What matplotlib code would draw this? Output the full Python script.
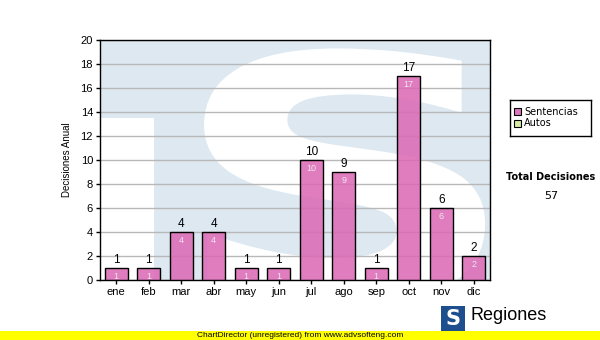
import matplotlib
matplotlib.use("Agg")
import matplotlib.pyplot as plt
from matplotlib.patches import Rectangle, PathPatch
from matplotlib.textpath import TextPath
from matplotlib.font_manager import FontProperties
from matplotlib.transforms import Affine2D

plt.rcParams['font.family'] = ['Liberation Sans', 'DejaVu Sans']

meses = ["ene", "feb", "mar", "abr", "may", "jun", "jul", "ago", "sep", "oct", "nov", "dic"]
sentencias = [1, 1, 4, 4, 1, 1, 10, 9, 1, 17, 6, 2]
total = 57
yticks = list(range(0, 21, 2))

W, H = 600, 340
fig = plt.figure(figsize=(6, 3.4), dpi=100)
fig.patch.set_facecolor("white")

# plot area in pixels: x 100..490, y 40..280
ax = fig.add_axes([100 / W, (H - 280) / H, 390 / W, 240 / H])
ax.set_xlim(-0.5, 11.5)
ax.set_ylim(0, 20)
ax.set_facecolor("#dde8f1")

# watermark: white area left of the "T" stem and big white "S"
ax.add_patch(Rectangle((-0.5, 0), (154 - 100) / 32.5, 13.5, facecolor="white",
                       edgecolor="none", zorder=0))
tp = TextPath((0, 0), "S", prop=FontProperties(family="DejaVu Sans", weight="bold"))
bb = tp.get_extents()
x0, x1, y0, y1 = 2.7, 11.35, -2.0, 19.3
tr = Affine2D().translate(-bb.x0, -bb.y0).scale((x1 - x0) / bb.width, (y1 - y0) / bb.height).translate(x0, y0)
s_patch = PathPatch(tr.transform_path(tp), facecolor="white", edgecolor="none", zorder=0)
ax.add_patch(s_patch)
s_patch.set_clip_path(ax.patch)

ax.set_yticks(yticks)
ax.yaxis.grid(True, color="#b8b8b8", linewidth=1)
ax.set_axisbelow(True)

xs = list(range(len(meses)))
bars = ax.bar(xs, sentencias, width=0.71, color=(0.86, 0.42, 0.71, 0.88), edgecolor="black",
              linewidth=1, zorder=3)
for x, v in zip(xs, sentencias):
    ax.text(x, v + 0.15, str(v), ha="center", va="bottom", fontsize=8.5, color="black", zorder=4)
    ax.text(x, v - 0.3, str(v), ha="center", va="top", fontsize=6.5, color="#f4e6f0", zorder=4)

ax.set_xticks(xs)
ax.set_xticklabels(meses)
ax.tick_params(axis="both", labelsize=8, length=3, width=1, direction="out", color="black", pad=2)
for sp in ax.spines.values():
    sp.set_linewidth(1)
ax.set_ylabel("Decisiones Anual", fontsize=7, labelpad=6)

# legend
leg_ax = fig.add_axes([510 / W, (H - 136) / H, 81 / W, 36 / H])
leg_ax.set_xlim(0, 81)
leg_ax.set_ylim(36, 0)
leg_ax.set_xticks([])
leg_ax.set_yticks([])
for sp in leg_ax.spines.values():
    sp.set_linewidth(1)
leg_ax.add_patch(Rectangle((4, 8), 7, 7, facecolor="#d977ba", edgecolor="black", linewidth=0.8))
leg_ax.add_patch(Rectangle((4, 20), 7, 7, facecolor="#d6eba6", edgecolor="black", linewidth=0.8))
leg_ax.text(14, 11.5, "Sentencias", fontsize=7, va="center", family=["DejaVu Sans"])
leg_ax.text(14, 23.5, "Autos", fontsize=7, va="center", family=["DejaVu Sans"])

fig.text(551 / W, 1 - 177 / H, "Total Decisiones", ha="center", va="center",
         fontsize=7, fontweight="bold", family=["DejaVu Sans"])
fig.text(551 / W, 1 - 196 / H, str(total), ha="center", va="center", fontsize=8,
         family=["DejaVu Sans"])

# logo bottom right
fig.patches.append(Rectangle((441 / W, 1 - 332 / H), 24 / W, 26 / H, transform=fig.transFigure,
                             facecolor="#1d4f8f", edgecolor="none", figure=fig))
fig.text(453 / W, 1 - 319 / H, "S", ha="center", va="center", fontsize=15, color="white",
         fontweight="bold", family=["DejaVu Sans"])
fig.text(470 / W, 1 - 315 / H, "Regiones", ha="left", va="center", fontsize=13)

# yellow footer band
fig.patches.append(Rectangle((0, 0), 1, 9 / H, transform=fig.transFigure,
                             facecolor="#ffff00", edgecolor="none", figure=fig, zorder=5))
fig.text(300 / W, 4.5 / H, "ChartDirector (unregistered) from www.advsofteng.com",
         ha="center", va="center", fontsize=6, zorder=6)

fig.savefig("out.png", dpi=100)
